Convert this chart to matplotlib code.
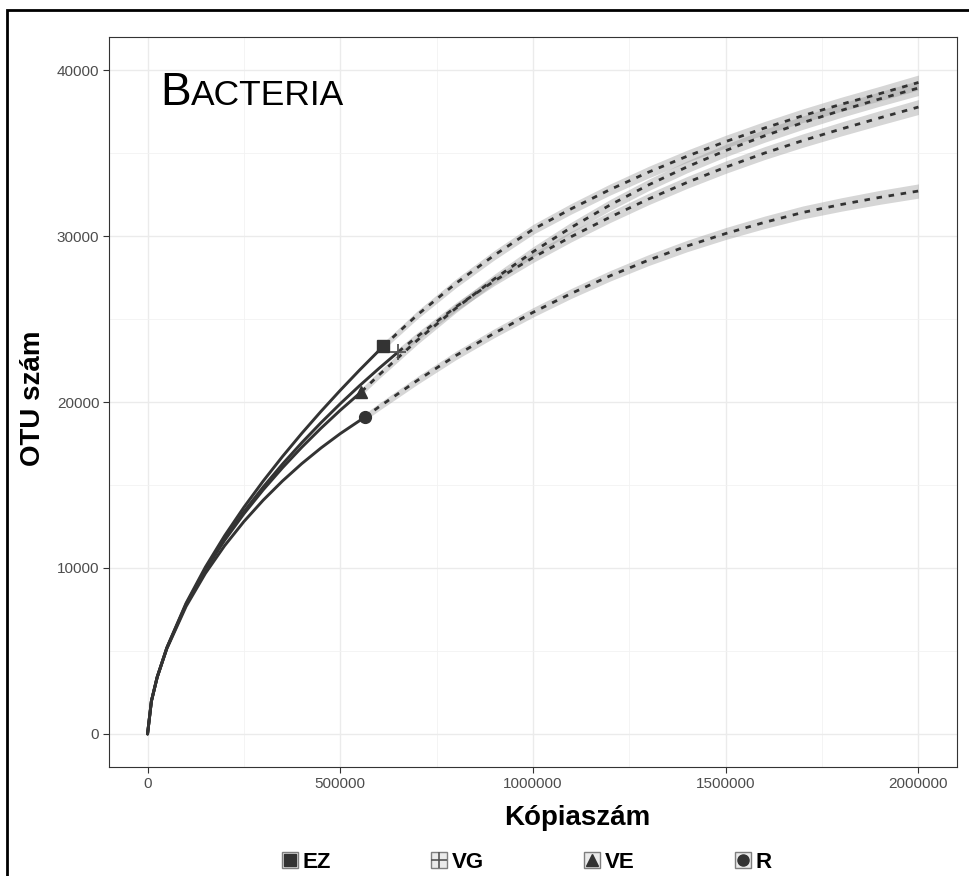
import numpy as np
import matplotlib.pyplot as plt
from matplotlib.lines import Line2D
from matplotlib.patches import Patch, Rectangle
from matplotlib.legend_handler import HandlerTuple

plt.rcParams['font.family'] = ['Liberation Sans', 'DejaVu Sans']

# groups and their markers
groups = ['EZ', 'VG', 'VE', 'R']
markers = ['s', '+', '^', 'o']

# observed (rarefied) part of each curve
ez_obs_x = [0, 10e3, 25e3, 50e3, 100e3, 150e3, 200e3, 250e3, 300e3, 350e3, 400e3, 450e3, 500e3, 550e3, 612e3]
ez_obs_y = [0, 1980, 3431, 5200, 7884, 10053, 11946, 13659, 15237, 16714, 18109, 19435, 20704, 21922, 23373]

vg_obs_x = [0, 10e3, 25e3, 50e3, 100e3, 150e3, 200e3, 250e3, 300e3, 350e3, 400e3, 450e3, 500e3, 550e3, 600e3, 651e3]
vg_obs_y = [0, 1978, 3424, 5180, 7823, 9935, 11760, 13393, 14880, 16258, 17544, 18753, 19897, 20982, 22016, 23030]

ve_obs_x = [0, 10e3, 25e3, 50e3, 100e3, 150e3, 200e3, 250e3, 300e3, 350e3, 400e3, 450e3, 500e3, 555e3]
ve_obs_y = [0, 1978, 3421, 5170, 7793, 9878, 11669, 13263, 14707, 16035, 17269, 18420, 19503, 20620]

r_obs_x = [0, 10e3, 25e3, 50e3, 100e3, 150e3, 200e3, 250e3, 300e3, 350e3, 400e3, 450e3, 500e3, 563e3]
r_obs_y = [0, 1975, 3409, 5134, 7685, 9673, 11344, 12798, 14085, 15240, 16284, 17231, 18095, 19078]

# extrapolated part + confidence half width
ez_ext_x = [612e3, 700e3, 800e3, 900e3, 1000e3, 1100e3, 1200e3, 1300e3, 1400e3, 1500e3, 1600e3, 1700e3, 1800e3, 1900e3, 2000e3]
ez_ext_y = [23373, 25250, 27150, 28850, 30400, 31650, 32800, 33850, 34810, 35690, 36500, 37250, 37940, 38580, 39250]
ez_ci = [220, 245, 265, 285, 300, 320, 335, 350, 365, 380, 395, 410, 425, 440, 450]

vg_ext_x = [651e3, 700e3, 800e3, 900e3, 1000e3, 1100e3, 1200e3, 1300e3, 1400e3, 1500e3, 1600e3, 1700e3, 1800e3, 1900e3, 2000e3]
vg_ext_y = [23030, 23950, 25730, 27300, 28700, 29970, 31140, 32230, 33230, 34150, 34990, 35750, 36450, 37120, 37771]
vg_ci = [220, 240, 260, 280, 300, 315, 330, 345, 360, 375, 390, 405, 420, 435, 450]

ve_ext_x = [555e3, 600e3, 700e3, 800e3, 900e3, 1000e3, 1100e3, 1200e3, 1300e3, 1400e3, 1500e3, 1600e3, 1700e3, 1800e3, 1900e3, 2000e3]
ve_ext_y = [20620, 21620, 23720, 25650, 27420, 29050, 30530, 31870, 33080, 34170, 35150, 36030, 36830, 37570, 38260, 38916]
ve_ci = [215, 225, 245, 265, 285, 300, 315, 330, 345, 360, 375, 390, 405, 420, 435, 450]

r_ext_x = [563e3, 600e3, 700e3, 800e3, 900e3, 1000e3, 1100e3, 1200e3, 1300e3, 1400e3, 1500e3, 1600e3, 1700e3, 1800e3, 1900e3, 2000e3]
r_ext_y = [19078, 19700, 21300, 22800, 24150, 25400, 26550, 27600, 28550, 29400, 30150, 30820, 31420, 31900, 32330, 32711]
r_ci = [210, 220, 240, 255, 270, 285, 300, 315, 330, 345, 360, 375, 390, 405, 420, 430]

obs = [(ez_obs_x, ez_obs_y), (vg_obs_x, vg_obs_y), (ve_obs_x, ve_obs_y), (r_obs_x, r_obs_y)]
ext = [(ez_ext_x, ez_ext_y, ez_ci), (vg_ext_x, vg_ext_y, vg_ci),
       (ve_ext_x, ve_ext_y, ve_ci), (r_ext_x, r_ext_y, r_ci)]

xticks = [0, 500000, 1000000, 1500000, 2000000]
yticks = [0, 10000, 20000, 30000, 40000]

W, H = 970, 876
fig = plt.figure(figsize=(W / 100, H / 100), dpi=100)
ax = fig.add_axes([109 / W, 1 - 767 / H, (957 - 109) / W, (767 - 37) / H])

line_col = '#333333'

# bands first
for ex, ey, ci in ext:
    ex = np.array(ex); ey = np.array(ey); ci = np.array(ci)
    ax.fill_between(ex, ey - ci, ey + ci, color='#999999', alpha=0.4, lw=0, zorder=2)

for ex, ey, ci in ext:
    ax.plot(ex, ey, color=line_col, lw=2.0, dashes=(2.0, 2.4), zorder=3)

for (ox, oy), m in zip(obs, markers):
    ax.plot(ox, oy, color=line_col, lw=2.1, zorder=4, solid_capstyle='round')
    if m == '+':
        ax.plot(ox[-1], oy[-1], marker=m, ms=11, mew=1.3, color='#555555', zorder=5)
    else:
        ax.plot(ox[-1], oy[-1], marker=m, ms=8.5, color=line_col, zorder=5, lw=0)

ax.set_xlim(-100000, 2100000)
ax.set_ylim(-1990, 41990)
ax.set_xticks(xticks)
ax.set_yticks(yticks)
ax.set_xticklabels([str(v) for v in xticks])
ax.set_yticklabels([str(v) for v in yticks])
ax.set_xticks([250000, 750000, 1250000, 1750000], minor=True)
ax.set_yticks([5000, 15000, 25000, 35000], minor=True)
ax.tick_params(which='major', length=4, width=0.8, color='#333333', labelcolor='#4d4d4d',
               labelsize=11, pad=3)
ax.tick_params(which='minor', length=0)
ax.grid(which='major', color='#ebebeb', lw=1.0, zorder=0)
ax.grid(which='minor', color='#f2f2f2', lw=0.6, zorder=0)
ax.set_axisbelow(True)
for s in ax.spines.values():
    s.set_color('#333333')
    s.set_linewidth(0.8)

# title in small caps
t1 = ax.text(0.060, 0.907, 'B', transform=ax.transAxes, fontsize=33, va='baseline', ha='left')
fig.canvas.draw()
bb = t1.get_window_extent()
xa = ax.transAxes.inverted().transform((bb.x1, bb.y0))[0]
ax.text(xa, 0.907, 'ACTERIA', transform=ax.transAxes, fontsize=25.5, va='baseline', ha='left')

fig.text(577 / W, 1 - 818 / H, 'Kópiaszám', fontsize=20, fontweight='bold', ha='center', va='center')
fig.text(33 / W, 1 - 398 / H, 'OTU szám', fontsize=20, fontweight='bold', ha='center', va='center',
         rotation=90)

# legend
handles = []
for m in markers:
    box = Patch(facecolor='#ebebeb', edgecolor='#7f7f7f', lw=1.0)
    if m == '+':
        mk = Line2D([], [], marker=m, ms=11.5, mew=1.2, color='#555555', lw=0)
    else:
        mk = Line2D([], [], marker=m, ms=8, color=line_col, lw=0)
    handles.append((box, mk))
leg = fig.legend(handles, groups, ncol=4, loc='center', bbox_to_anchor=(527 / W, 1 - 862 / H),
                 frameon=False, handler_map={tuple: HandlerTuple(ndivide=1, pad=0)},
                 handlelength=0.72, handleheight=0.72, handletextpad=0.22, columnspacing=4.5,
                 prop={'size': 16, 'weight': 'bold'})

# outer frame of the screenshot
fig.patches.append(Rectangle((7 / W, -0.1), 1.2, 1.1 - 10 / H, transform=fig.transFigure,
                             fill=False, ec='black', lw=2, clip_on=False))

fig.savefig('out.png', dpi=100)
